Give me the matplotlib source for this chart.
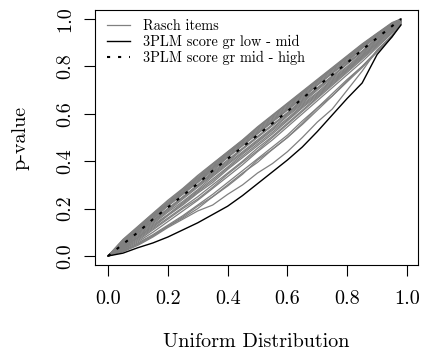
"""
plot.py: p-value QQ curves of item fit statistics against the uniform distribution
"""

import matplotlib
matplotlib.use("Agg")
import matplotlib.pyplot as plt

plt.rcParams["font.family"] = ["cmr10", "DejaVu Serif"]
plt.rcParams["axes.formatter.use_mathtext"] = True

# quantiles of the uniform distribution
uniform_q = [0.0, 0.05, 0.10, 0.15, 0.20, 0.25, 0.30, 0.35, 0.40, 0.45, 0.50,
             0.55, 0.60, 0.65, 0.70, 0.75, 0.80, 0.85, 0.90, 0.95, 0.98]

# empirical p-value quantiles, Rasch items
rasch_items = [
    [0, .070, .125, .180, .235, .285, .340, .390, .440, .490, .545, .595, .645, .695, .745, .795, .845, .895, .940, .985, 1.0],
    [0, .068, .122, .178, .230, .282, .335, .388, .438, .488, .542, .592, .642, .692, .742, .792, .842, .892, .938, .982, 1.0],
    [0, .065, .120, .175, .225, .280, .330, .385, .435, .485, .540, .590, .640, .690, .740, .790, .840, .890, .935, .980, 1.0],
    [0, .062, .118, .172, .222, .275, .328, .380, .432, .482, .535, .585, .635, .688, .738, .788, .838, .888, .935, .980, 1.0],
    [0, .060, .115, .170, .220, .270, .325, .375, .430, .480, .530, .580, .630, .685, .735, .785, .835, .885, .935, .980, 1.0],
    [0, .058, .112, .165, .218, .268, .320, .372, .425, .475, .525, .575, .625, .680, .730, .780, .830, .882, .932, .978, 1.0],
    [0, .055, .110, .160, .215, .265, .315, .370, .420, .470, .520, .570, .620, .675, .725, .775, .825, .880, .930, .975, 1.0],
    [0, .052, .108, .158, .212, .262, .312, .365, .418, .468, .518, .568, .618, .670, .722, .772, .822, .878, .928, .975, 1.0],
    [0, .050, .105, .155, .210, .260, .310, .360, .415, .465, .515, .565, .615, .665, .720, .770, .820, .875, .925, .975, 1.0],
    [0, .048, .100, .150, .200, .250, .300, .355, .405, .455, .505, .555, .605, .660, .710, .760, .815, .865, .920, .970, 1.0],
    [0, .046, .098, .148, .198, .248, .298, .350, .400, .452, .502, .552, .602, .655, .708, .758, .812, .862, .918, .968, .998],
    [0, .045, .095, .145, .195, .245, .295, .345, .395, .450, .500, .550, .600, .650, .705, .755, .810, .860, .915, .965, .995],
    [0, .042, .090, .140, .190, .240, .290, .340, .390, .440, .490, .540, .595, .645, .700, .750, .800, .855, .910, .965, .995],
    [0, .040, .085, .135, .185, .230, .280, .335, .385, .435, .485, .535, .590, .640, .690, .745, .795, .850, .905, .960, .995],
    [0, .038, .080, .130, .175, .225, .275, .325, .375, .430, .480, .530, .580, .635, .685, .740, .790, .845, .900, .960, .995],
    [0, .036, .078, .125, .172, .220, .270, .318, .370, .422, .472, .522, .575, .630, .680, .735, .788, .842, .898, .958, .992],
    [0, .035, .075, .120, .170, .215, .265, .310, .365, .415, .465, .515, .570, .625, .675, .730, .785, .840, .895, .955, .990],
    [0, .032, .070, .115, .160, .205, .250, .300, .350, .400, .455, .505, .560, .615, .670, .725, .780, .835, .890, .950, .990],
    [0, .030, .065, .110, .155, .200, .240, .290, .345, .395, .445, .500, .555, .610, .665, .720, .775, .830, .885, .945, .990],
    [0, .028, .060, .100, .145, .190, .235, .285, .335, .385, .440, .490, .545, .600, .655, .710, .765, .820, .880, .940, .990],
    [0, .025, .055, .090, .130, .170, .215, .260, .310, .360, .410, .460, .510, .570, .625, .685, .745, .800, .865, .930, .985],
    [0, .022, .050, .085, .125, .160, .200, .250, .300, .350, .395, .450, .500, .555, .615, .675, .735, .795, .860, .925, .985],
    [0, .020, .050, .085, .125, .165, .210, .250, .295, .345, .405, .450, .500, .560, .625, .675, .740, .800, .865, .925, .980],
    [0, .018, .045, .080, .120, .155, .190, .215, .260, .300, .350, .390, .440, .500, .565, .620, .700, .780, .870, .930, .980],
]

# 3PLM score groups
low_mid = [0, .012, .035, .055, .080, .110, .140, .175, .210, .255, .305, .355,
           .405, .460, .525, .595, .665, .730, .850, .925, .975]
mid_high = [0, .050, .100, .155, .205, .255, .305, .360, .410, .460, .510, .560,
            .610, .665, .715, .765, .815, .870, .920, .970, 1.0]

ticks = [0.0, 0.2, 0.4, 0.6, 0.8, 1.0]
tick_labels = ["0.0", "0.2", "0.4", "0.6", "0.8", "1.0"]

fig = plt.figure(figsize=(4.21, 3.57), dpi=100)
ax = fig.add_axes([95 / 421, 1 - 265 / 357, 323 / 421, 255 / 357])

grey = "#808080"
for i, item in enumerate(rasch_items):
    ax.plot(uniform_q, item, color=grey, lw=0.9,
            label="Rasch items" if i == 0 else None)
ax.plot(uniform_q, low_mid, color="black", lw=1.0, label="3PLM score gr low - mid")
ax.plot(uniform_q, mid_high, color="black", lw=1.5, dashes=(1.5, 3.8),
        label="3PLM score gr mid - high")

ax.set_xlim(-13 / 299, 1 + 11 / 299)
ax.set_ylim(-9 / 237, 1 + 9 / 237)

ax.set_xticks(ticks)
ax.set_xticklabels(tick_labels)
ax.set_yticks(ticks)
ax.set_yticklabels(tick_labels, rotation=90, va="center")
ax.tick_params(axis="both", length=8, width=0.8, labelsize=14.5)
ax.tick_params(axis="x", pad=10)
ax.tick_params(axis="y", pad=7)
for s in ax.spines.values():
    s.set_linewidth(0.8)

leg = ax.legend(loc="upper left", bbox_to_anchor=(0.037, 0.963), frameon=False,
                fontsize=10.3, handlelength=1.6, handletextpad=0.9,
                labelspacing=0.12, borderaxespad=0, borderpad=0)

fig.text(256.5 / 421, 1 - 342 / 357, "Uniform Distribution", ha="center",
         va="center", fontsize=14.5)
fig.text(20 / 421, 1 - 137.5 / 357, "p-value", ha="center", va="center",
         rotation=90, fontsize=14.5)

fig.savefig("out.png", dpi=100)
